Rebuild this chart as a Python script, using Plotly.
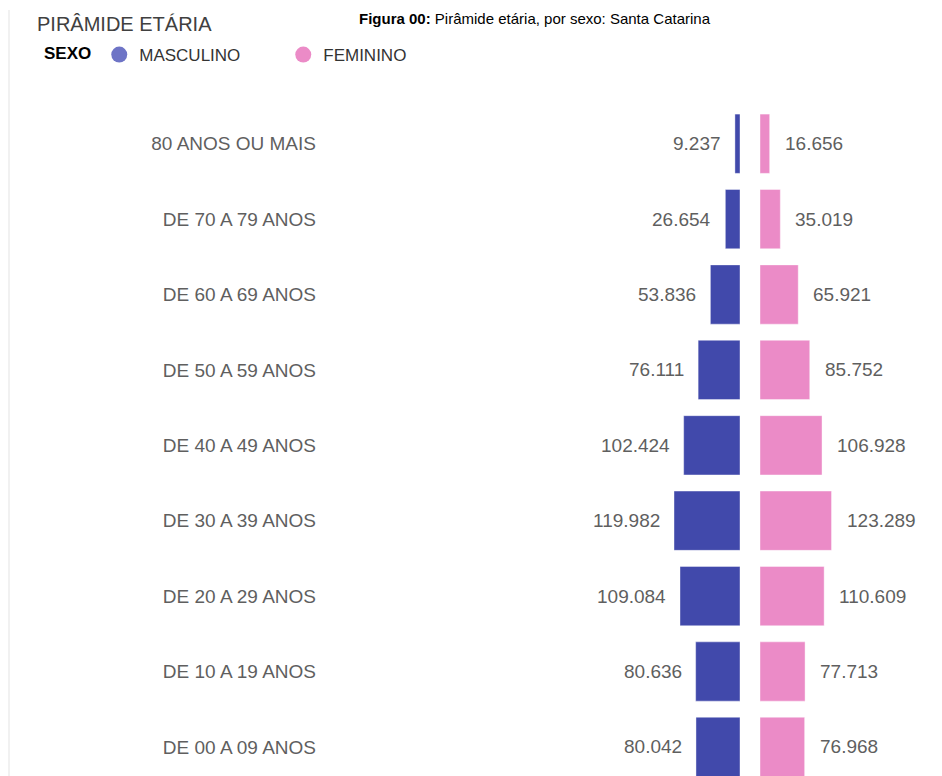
import plotly.graph_objects as go

categories = ["DE 00 A 09 ANOS", "DE 10 A 19 ANOS", "DE 20 A 29 ANOS", "DE 30 A 39 ANOS",
              "DE 40 A 49 ANOS", "DE 50 A 59 ANOS", "DE 60 A 69 ANOS", "DE 70 A 79 ANOS",
              "80 ANOS OU MAIS"]
masculino = [80042, 80636, 109084, 119982, 102424, 76111, 53836, 26654, 9237]
feminino = [76968, 77713, 110609, 123289, 106928, 85752, 65921, 35019, 16656]

MALE = "#4149AB"
FEMALE = "#EB8BC7"
FONT = "Liberation Sans, Arial, sans-serif"
OFF = 8                      # page body margin
W, H = 942 - OFF, 776 - OFF
T = 92


def fmt(v):
    return f"{v:,}".replace(",", ".")


def px(xpage):
    return (xpage - OFF) / W


fig = go.Figure()
fig.add_trace(go.Bar(y=categories, x=masculino, orientation="h", xaxis="x", yaxis="y",
                     marker=dict(color=MALE, line=dict(color="rgba(255,255,255,0.4)", width=1)),
                     showlegend=False, hoverinfo="skip"))
fig.add_trace(go.Bar(y=categories, x=feminino, orientation="h", xaxis="x2", yaxis="y2",
                     marker=dict(color=FEMALE, line=dict(color="rgba(255,255,255,0.4)", width=1)),
                     showlegend=False, hoverinfo="skip"))
# legend entries
fig.add_trace(go.Scatter(x=[None], y=[None], mode="markers", name="MASCULINO",
                         marker=dict(symbol="circle", size=16, color="#6E74C6"), xaxis="x", yaxis="y"))
fig.add_trace(go.Scatter(x=[None], y=[None], mode="markers", name="FEMININO",
                         marker=dict(symbol="circle", size=16, color=FEMALE), xaxis="x", yaxis="y"))

annotations = []
for c, v in zip(categories, masculino):
    annotations.append(dict(x=v, y=c, xref="x", yref="y", text=fmt(v), showarrow=False,
                            xanchor="right", xshift=-12, font=dict(family=FONT, size=19, color="#5f5f5f")))
for c, v in zip(categories, feminino):
    annotations.append(dict(x=v, y=c, xref="x2", yref="y2", text=fmt(v), showarrow=False,
                            xanchor="left", xshift=13, font=dict(family=FONT, size=19, color="#5f5f5f")))
annotations.append(dict(x=px(357), y=1 + T / (H - T), xref="paper", yref="paper",
                        xanchor="left", yanchor="top", showarrow=False,
                        text="<b>Figura 00:</b> Pirâmide etária, por sexo: Santa Catarina",
                        font=dict(family=FONT, size=15, color="#000000")))

male_px = 0.55 / 1000
female_px = 0.58 / 1000
left0, left1 = 317 - OFF, 740 - OFF
right0 = 760 - OFF

fig.update_layout(
    width=W, height=H,
    margin=dict(l=0, r=0, t=T, b=0),
    paper_bgcolor="white", plot_bgcolor="white",
    bargap=0.214,
    title=dict(text="PIRÂMIDE ETÁRIA", x=px(37), xanchor="left", y=1 - (24 - OFF) / H, yanchor="middle",
               font=dict(family=FONT, size=20, color="#404040")),
    legend=dict(orientation="h", x=px(42), xanchor="left", y=1 + (T - 37 + OFF) / (H - T), yanchor="top",
                title=dict(text="<b>SEXO</b>", font=dict(family=FONT, size=17, color="#000000")),
                font=dict(family=FONT, size=17, color="#333333"), itemwidth=30,
                entrywidth=139, entrywidthmode="pixels",
                bgcolor="rgba(0,0,0,0)"),
    xaxis=dict(domain=[left0 / W, left1 / W], range=[(left1 - left0) / male_px, 0],
               showgrid=False, zeroline=False, showticklabels=False, showline=False, fixedrange=True),
    xaxis2=dict(domain=[right0 / W, 1], range=[0, (W - right0) / female_px],
                showgrid=False, zeroline=False, showticklabels=False, showline=False, fixedrange=True),
    yaxis=dict(type="category", categoryorder="array", categoryarray=categories,
               range=[-0.386, 8.58], showgrid=False, zeroline=False, ticks="",
               tickfont=dict(family=FONT, size=19, color="#5f5f5f"), fixedrange=True),
    yaxis2=dict(type="category", categoryorder="array", categoryarray=categories, matches="y",
                anchor="x2", showgrid=False, zeroline=False, showticklabels=False, fixedrange=True),
    annotations=annotations,
    shapes=[dict(type="line", xref="paper", yref="paper", x0=1 / W, x1=1 / W,
                 y0=-0.01, y1=1 + (T - 2) / (H - T), line=dict(color="#f1f1f1", width=2))],
)

fig.write_html("out.html", config={"displayModeBar": False})
